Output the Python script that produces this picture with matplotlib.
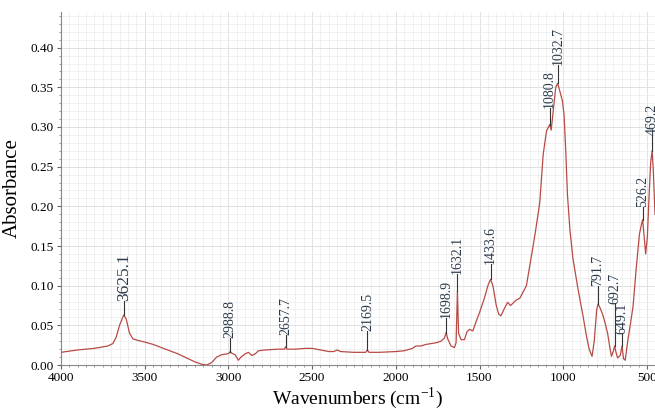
import matplotlib
matplotlib.use("Agg")
import matplotlib.pyplot as plt
from matplotlib.ticker import MultipleLocator, FormatStrFormatter

plt.rcParams['font.family'] = ['Liberation Serif', 'DejaVu Serif']
plt.rcParams['mathtext.fontset'] = 'stix'

# spectrum (wavenumber, absorbance)
wavenumber = [4000, 3900, 3800, 3720, 3690, 3670, 3650, 3625, 3610, 3590,
              3570, 3540, 3500, 3450, 3400, 3350, 3300, 3250, 3200, 3160,
              3130, 3100, 3070, 3040, 3010, 2995, 2989, 2980, 2960, 2940,
              2925, 2900, 2880, 2860, 2840, 2820, 2780, 2700, 2665, 2658,
              2650, 2600, 2540, 2500, 2450, 2400, 2370, 2350, 2330, 2250,
              2180, 2170, 2160, 2100, 2000, 1950, 1900, 1880, 1850, 1820,
              1790, 1760, 1730, 1710, 1699, 1690, 1670, 1650, 1640, 1632,
              1625, 1610, 1590, 1575, 1560, 1540, 1520, 1500, 1470, 1450,
              1434, 1420, 1400, 1385, 1372, 1350, 1332, 1315, 1300, 1280,
              1260, 1240, 1220, 1200, 1180, 1164, 1140, 1120, 1100, 1081,
              1072, 1060, 1045, 1033, 1020, 1005, 995, 985, 975, 960,
              942, 912, 882, 860, 845, 828, 815, 800, 792, 780,
              765, 750, 735, 720, 712, 700, 693, 685, 675, 660,
              649, 640, 630, 613, 600, 583, 565, 545, 530, 526,
              518, 508, 498, 488, 478, 469, 462, 452]
absorbance = [0.016, 0.019, 0.021, 0.024, 0.027, 0.035, 0.050, 0.063, 0.058, 0.040,
              0.033, 0.031, 0.029, 0.026, 0.022, 0.018, 0.014, 0.009, 0.004, 0.001,
              0.000, 0.003, 0.010, 0.013, 0.014, 0.015, 0.017, 0.015, 0.013, 0.006,
              0.010, 0.014, 0.016, 0.012, 0.014, 0.018, 0.019, 0.020, 0.020, 0.023,
              0.020, 0.020, 0.021, 0.021, 0.019, 0.017, 0.017, 0.019, 0.017, 0.016,
              0.016, 0.019, 0.016, 0.016, 0.017, 0.018, 0.021, 0.024, 0.024, 0.026,
              0.027, 0.028, 0.030, 0.034, 0.041, 0.033, 0.024, 0.022, 0.028, 0.093,
              0.040, 0.032, 0.032, 0.042, 0.045, 0.043, 0.055, 0.066, 0.085, 0.100,
              0.108, 0.100, 0.075, 0.064, 0.062, 0.072, 0.079, 0.075, 0.078, 0.082,
              0.084, 0.092, 0.100, 0.125, 0.150, 0.171, 0.205, 0.265, 0.295, 0.303,
              0.296, 0.320, 0.350, 0.355, 0.345, 0.333, 0.315, 0.270, 0.215, 0.170,
              0.134, 0.096, 0.062, 0.035, 0.020, 0.011, 0.030, 0.070, 0.077, 0.072,
              0.064, 0.053, 0.040, 0.020, 0.011, 0.018, 0.024, 0.016, 0.009, 0.012,
              0.024, 0.008, 0.006, 0.033, 0.050, 0.074, 0.120, 0.165, 0.180, 0.183,
              0.165, 0.140, 0.160, 0.210, 0.255, 0.270, 0.245, 0.190]

# peak labels: position, curve height, label height
peak_labels = ['3625.1', '2988.8', '2657.7', '2169.5', '1698.9', '1632.1', '1433.6',
               '1080.8', '1032.7', '791.7', '692.7', '649.1', '526.2', '469.2']
peak_y = [0.063, 0.017, 0.023, 0.019, 0.041, 0.093, 0.108,
          0.303, 0.355, 0.077, 0.024, 0.024, 0.183, 0.270]
label_y = [0.081, 0.034, 0.038, 0.043, 0.059, 0.115, 0.127,
           0.324, 0.378, 0.100, 0.077, 0.039, 0.199, 0.290]

fig = plt.figure(figsize=(6.55, 4.12), dpi=100)
ax = fig.add_axes([0.093, 0.114, 0.907, 0.857])

ax.plot(wavenumber, absorbance, color='#b84a45', lw=0.9, zorder=3)

for lab, py, ly in zip(peak_labels, peak_y, label_y):
    x = float(lab)
    ax.plot([x, x], [py, ly], color='#333333', lw=0.8, zorder=4)
    fs = 12.5 if lab == '3625.1' else 10
    ax.text(x, ly, lab, rotation=90, ha='center', va='bottom',
            fontsize=fs, color='#2b3a4a', zorder=5, clip_on=False)

ax.set_xlim(4000, 452)
ax.set_ylim(0, 0.445)
ax.xaxis.set_major_locator(MultipleLocator(500))
ax.xaxis.set_minor_locator(MultipleLocator(50))
ax.yaxis.set_major_locator(MultipleLocator(0.05))
ax.yaxis.set_minor_locator(MultipleLocator(0.01))
ax.yaxis.set_major_formatter(FormatStrFormatter('%.2f'))
ax.grid(which='major', color='#dcdcdc', lw=0.6)
ax.grid(which='minor', color='#ececec', lw=0.5)
ax.set_axisbelow(True)

for side in ['top', 'right']:
    ax.spines[side].set_visible(False)
for side in ['left', 'bottom']:
    ax.spines[side].set_color('#888888')
ax.tick_params(which='major', length=3, color='#666666', labelsize=9.5, pad=2)
ax.tick_params(which='minor', length=1.5, color='#888888')

ax.set_xlabel(r'Wavenumbers (cm$^{\mathregular{-1}}$)', fontsize=14, labelpad=1)
ax.set_ylabel('Absorbance', fontsize=15, labelpad=6)

fig.savefig('out.png', dpi=100)
